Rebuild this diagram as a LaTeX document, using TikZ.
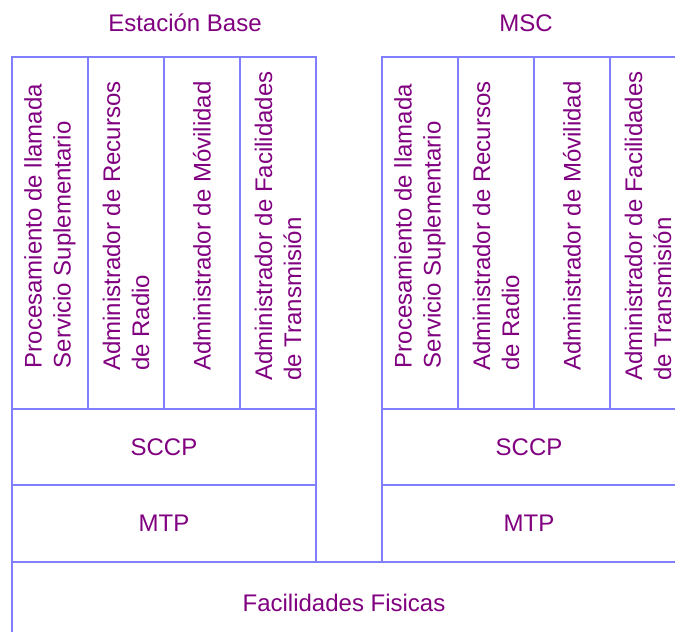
\documentclass[tikz,border=0pt]{standalone}
\usepackage{fontspec}
\setmainfont{Liberation Sans}
\usepackage{xcolor}
\usetikzlibrary{positioning}
\definecolor{trazo}{HTML}{8080FF}
\definecolor{letra}{HTML}{800080}

\begin{document}
\begin{tikzpicture}[x=1pt,y=-1pt,node distance=0pt,
 every node/.style={font=\fontsize{24}{29}\selectfont,text=letra,
   outer sep=0pt,inner sep=0pt},
 col/.style={draw=trazo,line width=1.2pt,minimum width=76pt,minimum height=352pt},
 layer/.style={draw=trazo,line width=1.2pt},
 vtext/.style={rotate=90,align=left}]
    \useasboundingbox (0,0) rectangle (675,632);
    \clip (0,0) rectangle (675,632);
    % Estacion Base
    \node (ebtitle) at (185,23) {Estación Base};
    \node[col,anchor=north west] (eb1) at (12,57) {};
    \node[col,right=of eb1] (eb2) {};
    \node[col,right=of eb2] (eb3) {};
    \node[col,right=of eb3] (eb4) {};
    \node[vtext] (ebt1) at ([yshift=7pt]eb1.center)
        {Procesamiento de llamada\\Servicio Suplementario};
    \node[vtext] (ebt2) at ([yshift=7pt]eb2.center)
        {Administrador de Recursos\\de Radio};
    \node[vtext] (ebt3) at ([yshift=7pt]eb3.center)
        {Administrador de Móvilidad};
    \node[vtext] (ebt4) at ([yshift=7pt]eb4.center)
        {Administrador de Facilidades\\de Transmisión};
    \node[layer,minimum width=304pt,minimum height=76pt,
          below=of eb1.south west,anchor=north west] (ebsccp) {SCCP};
    \node[layer,minimum width=304pt,minimum height=77pt,
          below=of ebsccp] (ebmtp) {MTP};
    % MSC
    \node (msctitle) at (526,23) {MSC};
    \node[col,anchor=north west] (msc1) at (382,57) {};
    \node[col,right=of msc1] (msc2) {};
    \node[col,right=of msc2] (msc3) {};
    \node[col,right=of msc3] (msc4) {};
    \node[vtext] (msct1) at ([yshift=7pt]msc1.center)
        {Procesamiento de llamada\\Servicio Suplementario};
    \node[vtext] (msct2) at ([yshift=7pt]msc2.center)
        {Administrador de Recursos\\de Radio};
    \node[vtext] (msct3) at ([yshift=7pt]msc3.center)
        {Administrador de Móvilidad};
    \node[vtext] (msct4) at ([yshift=7pt]msc4.center)
        {Administrador de Facilidades\\de Transmisión};
    \node[layer,minimum width=294pt,minimum height=76pt,
          below=of msc1.south west,anchor=north west] (mscsccp) {SCCP};
    \node[layer,minimum width=294pt,minimum height=77pt,
          below=of mscsccp] (mscmtp) {MTP};
    % capa fisica
    \node[layer,minimum width=664pt,minimum height=82pt,
          below=of ebmtp.south west,anchor=north west] (fisicas)
        {Facilidades Fisicas};
\end{tikzpicture}
\end{document}
